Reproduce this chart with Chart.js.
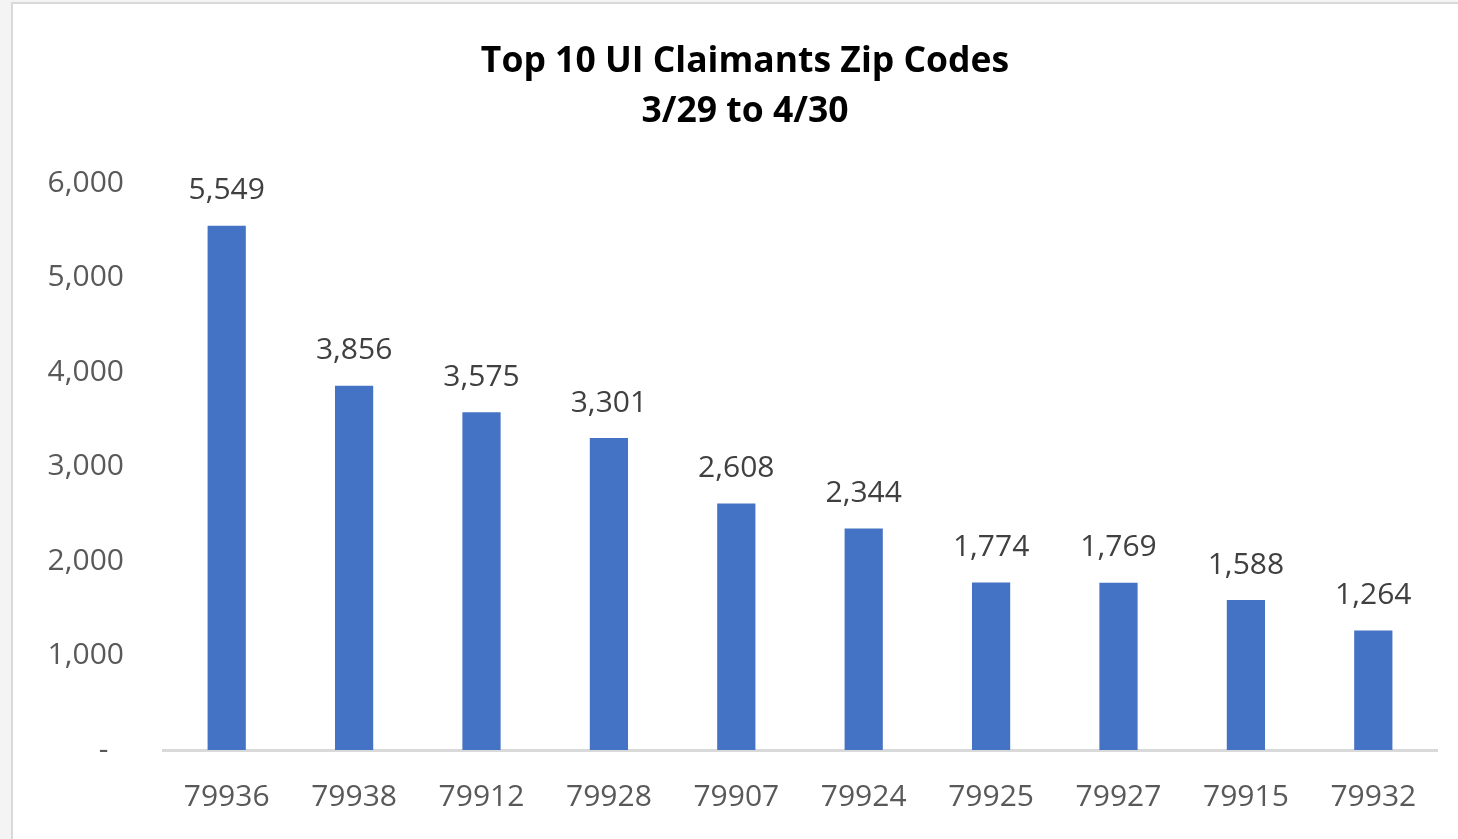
<!DOCTYPE html>
<html>
<head>
<meta charset="utf-8">
<script src="https://cdn.jsdelivr.net/npm/chart.js@4"></script>
<style>
  body { margin: 0; background: #f4f4f4; overflow: hidden; }
  #wrap {
    position: absolute; left: 11px; top: 2px;
    width: 1460px; height: 850px;
    background: #fff; border: 2px solid #d9d9d9;
  }
  #claimsChart { position: absolute; left: 0; top: 0; }
</style>
</head>
<body>
<div id="wrap">
  <canvas id="claimsChart" width="1445" height="835"></canvas>
</div>
<script>
// Zip codes and claimant counts
const zipCodes = ['79936', '79938', '79912', '79928', '79907', '79924', '79925', '79927', '79915', '79932'];
const claimants = [5549, 3856, 3575, 3301, 2608, 2344, 1774, 1769, 1588, 1264];
const yTicks = [0, 1000, 2000, 3000, 4000, 5000, 6000];

const tickFont = { family: 'Open Sans', size: 30 };

// value labels above each bar
const barLabels = {
  id: 'barLabels',
  afterLayout(chart) {
    // title sits a little right of the canvas centre in the original
    if (chart.titleBlock) {
      chart.titleBlock.left += 10;
      chart.titleBlock.right += 10;
    }
  },
  afterDatasetsDraw(chart) {
    const ctx = chart.ctx;
    const meta = chart.getDatasetMeta(0);
    ctx.save();
    ctx.font = '30px "Open Sans"';
    ctx.fillStyle = '#404040';
    ctx.textAlign = 'center';
    ctx.textBaseline = 'middle';
    meta.data.forEach((bar, i) => {
      ctx.fillText(claimants[i].toLocaleString('en-US'), bar.x, bar.y - 35);
    });
    ctx.restore();
  }
};

const ctx = document.getElementById('claimsChart').getContext('2d');

new Chart(ctx, {
  type: 'bar',
  data: {
    labels: zipCodes,
    datasets: [{
      label: 'UI Claimants',
      data: claimants,
      backgroundColor: '#4472C4',
      borderWidth: 0,
      barPercentage: 0.3,
      categoryPercentage: 1
    }]
  },
  options: {
    responsive: false,
    animation: false,
    layout: { padding: { left: 20, right: 21, top: 0, bottom: 0 } },
    plugins: {
      legend: { display: false },
      tooltip: { enabled: false },
      title: {
        display: true,
        text: ['Top 10 UI Claimants Zip Codes', '3/29 to 4/30'],
        color: '#000',
        font: { family: 'Open Sans', size: 35.5, weight: 'bold', lineHeight: 1.41 },
        padding: { top: 33, bottom: 46 }
      }
    },
    scales: {
      x: {
        grid: { display: false, drawTicks: false },
        border: { display: true, color: '#d9d9d9', width: 3 },
        ticks: { color: '#595959', font: tickFont, padding: 29, maxRotation: 0 },
        afterFit: (s) => { s.height = 89; }
      },
      y: {
        min: 0,
        max: 6000,
        afterBuildTicks: (s) => { s.ticks = yTicks.map(v => ({ value: v })); },
        grid: { display: false, drawTicks: false },
        border: { display: false },
        ticks: {
          color: '#595959',
          font: tickFont,
          padding: 39,
          callback: (v) => v === 0 ? '-  ' : v.toLocaleString('en-US')
        },
        afterFit: (s) => { s.width = 130; }
      }
    }
  },
  plugins: [barLabels]
});
</script>
</body>
</html>
